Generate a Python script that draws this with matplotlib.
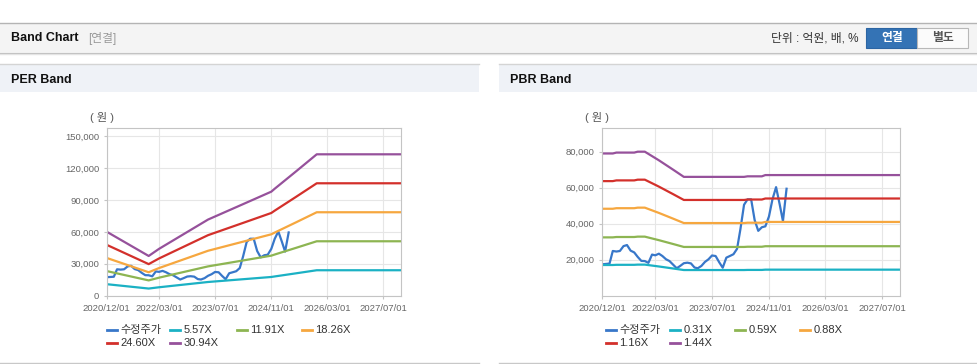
import numpy as np
import pandas as pd
import matplotlib
matplotlib.use('Agg')
import matplotlib.pyplot as plt
from matplotlib.patches import Rectangle
from matplotlib.lines import Line2D
import matplotlib.dates as mdates

plt.rcParams['font.family'] = ['Liberation Sans', 'Noto Sans CJK KR', 'DejaVu Sans']

# 수정주가 (monthly, from 2020/12)
price_start = '2020-12-01'
price = [17400, 17600, 17800, 24800, 24500, 24800, 27500, 28100, 25000, 24000,
         21500, 19300, 19200, 18200, 22800, 22400, 23300, 22000, 20200, 19200,
         17200, 15200, 16500, 18000, 18300, 17900, 15600, 15200, 16500, 18700,
         20200, 22300, 22000, 18500, 15500, 21100, 22000, 23000, 26000, 37000,
         50500, 53500, 53500, 42000, 36000, 38000, 38500, 44000, 53500, 60300,
         50700, 41400, 59400]

# PER band base (EPS) and multiples
per_dates = ['2020-12-01', '2021-12-01', '2022-03-01', '2023-05-01', '2024-03-01',
             '2024-11-01', '2024-12-01', '2025-06-01', '2025-12-01', '2027-12-01']
eps = [1942, 1206, 1422, 2311, 2780, 3158, 3248, 3765, 4292, 4292]
per_mult = [5.57, 11.91, 18.26, 24.60, 30.94]

# PBR band base (BPS) and multiples
pbr_dates = ['2020-12-01', '2021-03-01', '2021-04-01', '2021-09-01', '2021-10-01',
             '2021-12-01', '2022-04-01', '2022-08-01', '2022-11-01', '2024-04-01',
             '2024-05-01', '2024-09-01', '2024-10-01', '2027-12-01']
bps = [54861, 54861, 55208, 55208, 55556, 55556, 52222, 48611, 45833, 45833,
       46042, 46042, 46528, 46528]
pbr_mult = [0.31, 0.59, 0.88, 1.16, 1.44]

xtick_dates = ['2020-12-01', '2022-03-01', '2023-07-01', '2024-11-01', '2026-03-01', '2027-07-01']

price_color = '#3877c9'
band_colors = ['#1bb1c4', '#8db552', '#f6a73f', '#d3302b', '#96519b']

W, H = 978, 364
fig = plt.figure(figsize=(W / 100, H / 100), dpi=100)


def rect(x0, y0, x1, y1, **kw):
    fig.add_artist(Rectangle((x0 / W, 1 - y1 / H), (x1 - x0) / W, (y1 - y0) / H,
                             transform=fig.transFigure, **kw))


def hline(x0, x1, y, color, lw=1.0):
    fig.add_artist(Line2D([x0 / W, x1 / W], [1 - y / H, 1 - y / H],
                          transform=fig.transFigure, color=color, lw=lw))


def txt(x, y, s, **kw):
    fig.text(x / W, 1 - y / H, s, **kw)


# top header bar
hline(0, W, 22.5, '#b4b4b4')
rect(0, 23, W, 52, fc='#f4f4f4', ec='none')
hline(0, W, 52.5, '#bcbcbc')
hline(0, W, 53.5, '#e4e4e4')
txt(11, 38, 'Band Chart', fontsize=9, fontweight='bold', va='center', color='#111')
txt(88, 38.5, '[연결]', fontsize=8.5, va='center', color='#999')
txt(859, 38.5, '단위 : 억원, 배, %', fontsize=8.5, va='center', ha='right', color='#333')
rect(866, 28.5, 917.5, 47.5, fc='#3473b5', ec='#2c65a3', lw=0.8)
rect(917.5, 28.5, 968, 47.5, fc='#fbfbfb', ec='#b8b8b8', lw=0.8)
txt(892, 38.5, '연결', fontsize=8.5, fontweight='bold', va='center', ha='center', color='white')
txt(943, 38.5, '별도', fontsize=8.5, fontweight='bold', va='center', ha='center', color='#555')

# panel headers
for x0, x1, title in [(0, 479, 'PER Band'), (499, W, 'PBR Band')]:
    hline(x0, x1, 63.5, '#d4d4d4')
    rect(x0, 64, x1, 92, fc='#eff2f7', ec='none')
    hline(x0, x1, 362.5, '#c8c8c8')
    txt(x0 + 11, 80, title, fontsize=9, fontweight='bold', va='center', color='#111')

price_dates = pd.date_range(price_start, periods=len(price), freq='MS')
xticks = pd.to_datetime(xtick_dates)


def band_chart(box, base_dates, base, mults, ylim, yticks, unit_x, legend_x):
    left, top, right, bottom = box
    ax = fig.add_axes([left / W, 1 - bottom / H, (right - left) / W, (bottom - top) / H])
    ax.plot(price_dates, price, color=price_color, lw=1.6)
    dates = pd.to_datetime(base_dates)
    for m, c in zip(mults, band_colors):
        ax.plot(dates, np.array(base) * m, color=c, lw=1.6)
    ax.set_xlim(pd.Timestamp('2020-12-01'), pd.Timestamp('2027-12-01'))
    ax.set_ylim(*ylim)
    ax.set_yticks(yticks)
    ax.set_yticklabels([f'{v:,}' for v in yticks])
    ax.set_xticks(xticks)
    ax.xaxis.set_major_formatter(mdates.DateFormatter('%Y/%m/%d'))
    ax.grid(color='#e6e6e6', lw=0.8)
    ax.set_axisbelow(True)
    for s in ax.spines.values():
        s.set_color('#c4c4c4')
    ax.tick_params(axis='both', length=2.5, width=0.8, color='#c4c4c4',
                   labelsize=6.8, labelcolor='#666')
    ax.tick_params(axis='x', pad=3.5)
    ax.tick_params(axis='y', pad=3)
    txt(unit_x, 118, '( 원 )', fontsize=8, va='center', ha='center', color='#555')

    # legend
    labels = ['수정주가'] + [f'{m:.2f}X' for m in mults]
    colors = [price_color] + band_colors
    for i, (lab, c) in enumerate(zip(labels, colors)):
        x = legend_x[i % 4]
        y = [330, 343.3][i // 4]
        fig.add_artist(Line2D([x / W, (x + 10) / W], [1 - y / H, 1 - y / H],
                              transform=fig.transFigure, color=c, lw=2))
        txt(x + 13.3, y, lab, fontsize=8, va='center', color='#333')
    return ax


band_chart((106.7, 128, 400.7, 295.7), per_dates, eps, per_mult,
           (0, 157500), [0, 30000, 60000, 90000, 120000, 150000],
           101.5, [106.7, 170, 236.7, 301.7])
band_chart((602.3, 128.3, 900, 295.6), pbr_dates, bps, pbr_mult,
           (0, 93000), [20000, 40000, 60000, 80000],
           597.5, [605.7, 670, 735, 800])

fig.savefig('out.png', dpi=100)
